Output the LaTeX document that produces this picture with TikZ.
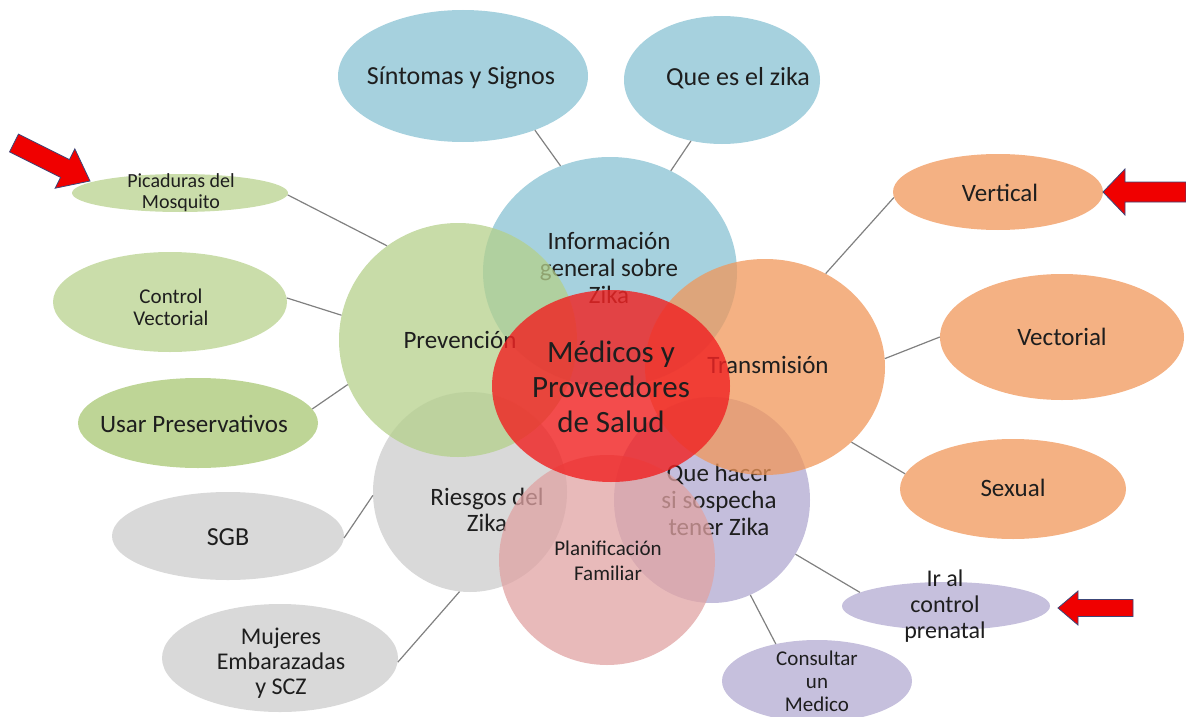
\documentclass[tikz,border=0pt]{standalone}
\usepackage{fontspec}
\setmainfont{Carlito}
\usetikzlibrary{shapes.geometric}
\definecolor{cblue}{RGB}{166,209,222}
\definecolor{cgreen}{RGB}{202,221,170}
\definecolor{cgreenB}{RGB}{190,213,150}
\definecolor{cgray}{RGB}{217,217,217}
\definecolor{corange}{RGB}{244,177,131}
\definecolor{cpurple}{RGB}{198,192,221}
\definecolor{iblue}{RGB}{136,194,211}
\definecolor{igreen}{RGB}{181,208,139}
\definecolor{igray}{RGB}{204,204,204}
\definecolor{iorange}{RGB}{240,151,90}
\definecolor{ipurple}{RGB}{176,168,208}
\definecolor{ipink}{RGB}{224,163,163}
\definecolor{ired}{RGB}{240,36,36}
\definecolor{txtc}{RGB}{30,30,30}
\definecolor{linec}{RGB}{128,128,128}
\definecolor{arrred}{RGB}{240,0,0}
\definecolor{arredge}{RGB}{60,70,120}
\newcommand\fsz[2]{\fontsize{#1}{#2}\selectfont}
\begin{document}
\begin{tikzpicture}[x=1pt,y=-1pt,
  blob/.style={ellipse, inner sep=0pt, draw=none},
  inner/.style={ellipse, inner sep=0pt, draw=none, fill opacity=0.75},
  txt/.style={align=center, text=txtc, inner sep=0pt},
  conn/.style={draw=linec, line width=1.2pt},
  bigarrow/.style={fill=arrred, draw=arredge, line width=0.8pt, line join=miter}]
\useasboundingbox (0,0) rectangle (1186,717);
% outer ellipses
\node[blob, fill=cblue, minimum width=250pt, minimum height=132pt] (sint) at (463,76) {};
\node[txt, font=\fsz{26}{30}] (sintT) at (461,78) {Síntomas y Signos};
\node[blob, fill=cblue, minimum width=196pt, minimum height=128pt] (quees) at (722,80) {};
\node[txt, font=\fsz{26}{30}] (queesT) at (738,78) {Que es el zika};
\node[blob, fill=cgreen, minimum width=216pt, minimum height=38pt] (pica) at (180,193) {};
\node[txt, font=\fsz{20}{21}] (picaT) at (181,193) {Picaduras del\\Mosquito};
\node[blob, fill=cgreen, minimum width=234pt, minimum height=100pt] (ctrl) at (170,302) {};
\node[txt, font=\fsz{21}{22}] (ctrlT) at (171,307) {Control\\Vectorial};
\node[blob, fill=cgreenB, minimum width=240pt, minimum height=90pt] (usar) at (198,423) {};
\node[txt, font=\fsz{25}{28}] (usarT) at (194,424) {Usar Preservativos};
\node[blob, fill=cgray, minimum width=232pt, minimum height=88pt] (sgb) at (228,536) {};
\node[txt, font=\fsz{26}{28}] (sgbT) at (228,537) {SGB};
\node[blob, fill=cgray, minimum width=236pt, minimum height=108pt] (muj) at (280,658) {};
\node[txt, font=\fsz{24}{25}] (mujT) at (281,663) {Mujeres\\Embarazadas\\y SCZ};
\node[blob, fill=corange, minimum width=210pt, minimum height=76pt] (vert) at (998,192) {};
\node[txt, font=\fsz{25}{28}] (vertT) at (1000,193) {Vertical};
\node[blob, fill=corange, minimum width=244pt, minimum height=126pt] (vect) at (1062,337) {};
\node[txt, font=\fsz{25}{28}] (vectT) at (1062,337) {Vectorial};
\node[blob, fill=corange, minimum width=226pt, minimum height=100pt] (sex) at (1013,489) {};
\node[txt, font=\fsz{25}{28}] (sexT) at (1013,488) {Sexual};
\node[blob, fill=cpurple, minimum width=208pt, minimum height=48pt] (iral) at (946,606) {};
\node[txt, font=\fsz{24}{26}] (iralT) at (945,606) {Ir al\\control\\prenatal};
\node[blob, fill=cpurple, minimum width=190pt, minimum height=82pt] (cons) at (817,681) {};
\node[txt, font=\fsz{21}{23}] (consT) at (817,681) {Consultar\\un\\Medico};
% inner circles (order matters for tinting)
\node[inner, fill=igray, minimum width=194pt, minimum height=200pt] (ries) at (470,492) {};
\node[txt, font=\fsz{25}{26}] (riesT) at (487,510) {Riesgos del\\Zika};
\node[inner, fill=ipurple, minimum width=196pt, minimum height=206pt] (qhac) at (712,500) {};
\node[txt, font=\fsz{25}{27}] (qhacT) at (719,500) {Que hacer\\si sospecha\\tener Zika};
\node[inner, fill=iblue, minimum width=254pt, minimum height=230pt] (info) at (610,272) {};
\node[txt, font=\fsz{25}{27}] (infoT) at (609,268) {Información\\general sobre\\Zika};
\node[inner, fill=igreen, minimum width=238pt, minimum height=234pt] (prev) at (458,340) {};
\node[txt, font=\fsz{25}{28}] (prevT) at (460,340) {Prevención};
\node[inner, fill=iorange, minimum width=240pt, minimum height=216pt] (trans) at (765,367) {};
\node[txt, font=\fsz{25}{28}] (transT) at (768,365) {Transmisión};
\node[inner, fill=ipink, minimum width=216pt, minimum height=210pt] (plan) at (607,560) {};
\node[txt, font=\fsz{21}{25}] (planT) at (608,561) {Planificación\\Familiar};
\node[ellipse, inner sep=0pt, fill=ired, fill opacity=0.82, minimum width=238pt, minimum height=192pt] (med) at (611,386) {};
\node[txt, font=\fsz{31}{35}] (medT) at (611,387) {Médicos y\\Proveedores\\de Salud};
% connectors
\draw[conn] (sint.-37.6) -- (info.115.7);
\draw[conn] (quees.-117.8) -- (info.59.2);
\draw[conn] (pica.-1.6) -- (prev.127.8);
\draw[conn] (ctrl.2) -- (prev.168);
\draw[conn] (usar.7.9) -- (prev.-158.8);
\draw[conn] (sgb.-1) -- (ries.-178);
\draw[conn] (muj.-2) -- (ries.-96.8);
\draw[conn] (vert.-177.3) -- (trans.57.5);
\draw[conn] (vect.180) -- (trans.4);
\draw[conn] (sex.172.8) -- (trans.-41.6);
\draw[conn] (iral.171.7) -- (qhac.-33.7);
\draw[conn] (cons.138.6) -- (qhac.-68.6);
% red block arrows
\draw[bigarrow] (90,181) -- (74.8,148.8) -- (69.5,159.6) -- (18.5,134.1) -- (9.5,151.9) -- (60.5,177.4) -- (55.2,188.2) -- cycle;
\draw[bigarrow] (1103,192) -- (1125,169) -- (1125,182) -- (1186,182) -- (1186,202) -- (1125,202) -- (1125,215) -- cycle;
\draw[bigarrow] (1058,608) -- (1078,591) -- (1078,599.5) -- (1133,599.5) -- (1133,616.5) -- (1078,616.5) -- (1078,625) -- cycle;
\end{tikzpicture}
\end{document}
